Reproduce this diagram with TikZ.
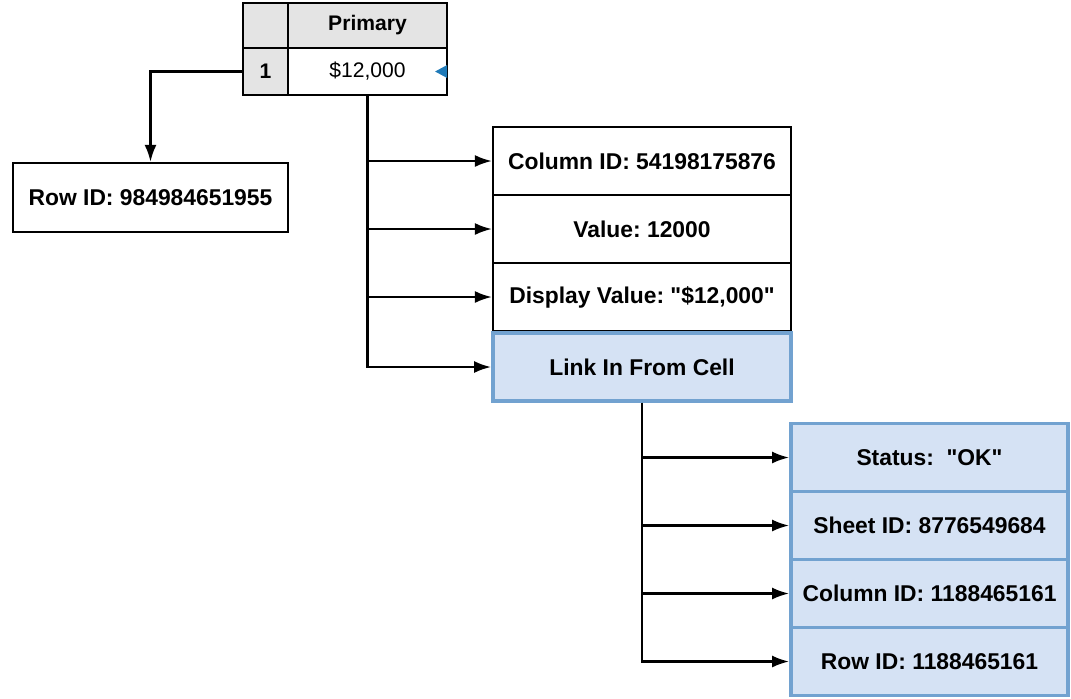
\documentclass[tikz,border=0pt]{standalone}
\usepackage{fontspec}
\setmainfont{Liberation Sans}
\usetikzlibrary{arrows.meta}
\tikzset{>={Latex[length=3.4mm,width=2.4mm]}}
\definecolor{hdrgrey}{HTML}{E4E4E4}
\definecolor{linkfill}{HTML}{D5E2F4}
\definecolor{linkline}{HTML}{72A2D0}
\definecolor{tricol}{HTML}{1F7AB8}
\tikzset{
	cell/.style={draw, line width=1.3pt, inner sep=0pt, font=\fontsize{12}{14}\selectfont},
	fieldbox/.style={draw, line width=1.3pt, fill=white, inner sep=0pt, minimum width=5.96cm, minimum height=1.36cm, font=\fontsize{13}{15}\selectfont\bfseries},
	linkbox/.style={fieldbox, draw=linkline, fill=linkfill, line width=2.2pt},
	subbox/.style={linkbox, minimum width=5.54cm},
	conn/.style={line width=1.3pt, ->}
}
\frenchspacing

\begin{document}
\begin{tikzpicture}[x=0.02cm, y=-0.02cm]
	\useasboundingbox (0,0) rectangle (1071,698);

	% the sheet cell
	\node[cell, fill=hdrgrey, minimum width=0.9cm, minimum height=0.9cm] (corner) at (265.5,25.5) {};
	\node[cell, fill=hdrgrey, minimum width=3.18cm, minimum height=0.9cm, font=\fontsize{12}{14}\selectfont\bfseries] (primary) at (367.5,25.5) {Primary};
	\node[cell, fill=hdrgrey, minimum width=0.9cm, minimum height=0.94cm, font=\fontsize{12}{14}\selectfont\bfseries] (rownum) at (265.5,71.5) {1};
	\node[cell, fill=white, minimum width=3.18cm, minimum height=0.94cm] (cellval) at (367.5,71.5) {\$12,000};
	\fill[tricol] (cellval.east) ++(-1,-6.5) -- ++(-12,6.5) -- ++(12,6.5) -- cycle;

	\node[fieldbox, minimum width=5.5cm, minimum height=1.38cm] (rowid) at (150.5,197.5) {Row ID: 984984651955};

	% cell fields
	\node[fieldbox] (colid) at (642,161) {Column ID: 54198175876};
	\node[fieldbox] (value) at (642,229) {Value: 12000};
	\node[fieldbox] (display) at (642,297) {Display Value: \textquotedbl\$12,000\textquotedbl};
	\node[linkbox] (link) at (642,367) {Link In From Cell};

	% link fields
	\node[subbox] (status) at (929.5,457.5) {Status:\ \ \textquotedbl OK\textquotedbl};
	\node[subbox] (sheetid) at (929.5,525.5) {Sheet ID: 8776549684};
	\node[subbox] (linkcol) at (929.5,593.5) {Column ID: 1188465161};
	\node[subbox] (linkrow) at (929.5,661.5) {Row ID: 1188465161};

	\draw[conn] (rownum.west) -| (rowid.north);

	\foreach \f in {colid,value,display,link}
		\draw[conn] (cellval.south) |- (\f.west);

	\foreach \f in {status,sheetid,linkcol,linkrow}
		\draw[conn] (link.south) |- (\f.west);
\end{tikzpicture}
\end{document}
